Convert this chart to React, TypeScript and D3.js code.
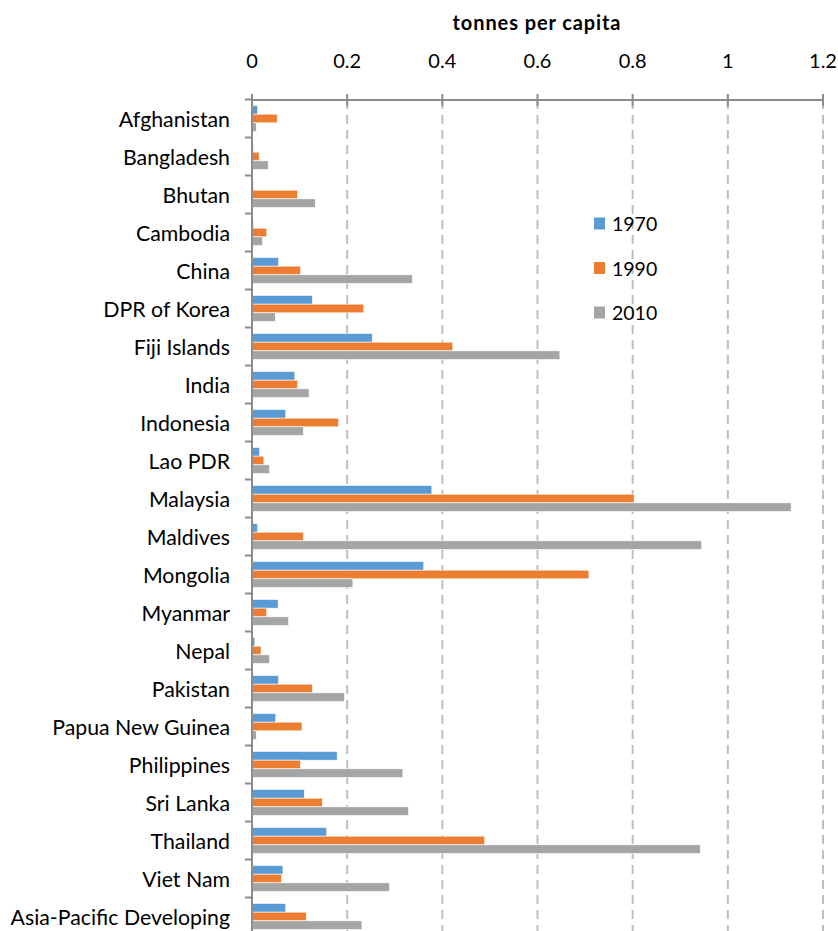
import React from "react";
import * as d3 from "d3";

const categories = [
  "Afghanistan", "Bangladesh", "Bhutan", "Cambodia", "China", "DPR of Korea",
  "Fiji Islands", "India", "Indonesia", "Lao PDR", "Malaysia", "Maldives",
  "Mongolia", "Myanmar", "Nepal", "Pakistan", "Papua New Guinea", "Philippines",
  "Sri Lanka", "Thailand", "Viet Nam", "Asia-Pacific Developing",
];
const seriesNames = ["1970", "1990", "2010"];
const values1970 = [0.012, 0.003, 0.003, 0.003, 0.056, 0.127, 0.253, 0.090, 0.071, 0.016, 0.378, 0.012, 0.361, 0.055, 0.006, 0.056, 0.050, 0.179, 0.110, 0.157, 0.065, 0.071];
const values1990 = [0.053, 0.015, 0.096, 0.031, 0.102, 0.235, 0.422, 0.096, 0.182, 0.025, 0.803, 0.108, 0.708, 0.031, 0.019, 0.127, 0.105, 0.102, 0.148, 0.489, 0.062, 0.114];
const values2010 = [0.009, 0.034, 0.133, 0.022, 0.337, 0.049, 0.647, 0.120, 0.108, 0.037, 1.133, 0.945, 0.212, 0.077, 0.037, 0.194, 0.009, 0.317, 0.329, 0.942, 0.289, 0.231];
const xTicks = [0, 0.2, 0.4, 0.6, 0.8, 1, 1.2];
const colors = ["#5B9BD5", "#ED7D31", "#A5A5A5"];
const axisTitle = "tonnes per capita";

const W = 838;
const H = 931;
const FONT = "Lato, 'Open Sans', sans-serif";

export default function App() {
  const x = d3.scaleLinear().domain([0, 1.2]).range([252, 823]);
  const y = d3.scaleBand<string>().domain(categories).range([99.5, 99.5 + 38 * 22]).paddingInner(0.316).paddingOuter(0.158);
  const inner = d3.scaleBand<string>().domain(seriesNames).range([0, y.bandwidth()]);
  const data = [values1970, values1990, values2010];
  const axisColor = "#8C8C8C";
  const yTop = 100;
  const yBottom = 99.5 + 38 * 22;

  return (
    <svg width={W} height={H} style={{ position: "absolute", left: 0, top: 0, background: "#fff" }} fontFamily={FONT}>
      {/* gridlines */}
      {xTicks.slice(1).map((t) => (
        <line key={"g" + t} x1={x(t)} x2={x(t)} y1={yTop} y2={yBottom} stroke="#BFBFBF" strokeWidth={2} strokeDasharray="9,6" />
      ))}
      {/* bars */}
      {categories.map((c, i) => (
        <g key={c}>
          {data.map((vals, s) => (
            <rect
              key={s}
              x={x(0)}
              y={(y(c) as number) + (inner(seriesNames[s]) as number)}
              width={x(vals[i]) - x(0)}
              height={inner.bandwidth()}
              fill={colors[s]}
              stroke="#fff"
              strokeWidth={0.6}
            />
          ))}
        </g>
      ))}
      {/* y axis */}
      <line x1={x(0)} x2={x(0)} y1={yTop} y2={yBottom} stroke={axisColor} strokeWidth={2} />
      {d3.range(categories.length + 1).map((k) => (
        <line key={"yt" + k} x1={x(0) - 7} x2={x(0)} y1={99.5 + 38 * k} y2={99.5 + 38 * k} stroke={axisColor} strokeWidth={2} />
      ))}
      {categories.map((c) => (
        <text key={"l" + c} x={230} y={(y(c) as number) + y.bandwidth() / 2} textAnchor="end" dominantBaseline="central" fontSize={21.3} fill="#000">
          {c}
        </text>
      ))}
      {/* x axis on top */}
      <line x1={x(0) - 1} x2={x(1.2) + 1} y1={yTop} y2={yTop} stroke={axisColor} strokeWidth={2} />
      {xTicks.map((t) => (
        <line key={"xt" + t} x1={x(t)} x2={x(t)} y1={yTop - 6} y2={yTop + 6} stroke={axisColor} strokeWidth={2} />
      ))}
      {xTicks.map((t) => (
        <text key={"xl" + t} x={x(t)} y={60} textAnchor="middle" dominantBaseline="central" fontSize={20} fill="#000">
          {String(t)}
        </text>
      ))}
      <text x={537} y={22} textAnchor="middle" dominantBaseline="central" fontSize={20} letterSpacing={0.9} fontWeight="bold" fill="#000">
        {axisTitle}
      </text>
      {/* legend */}
      {seriesNames.map((s, i) => (
        <g key={"lg" + s} transform={`translate(594, ${223.5 + i * 44.5})`}>
          <rect x={0} y={-6} width={11} height={12} fill={colors[i]} />
          <text x={18} y={0} dominantBaseline="central" fontSize={19.5} fill="#000">
            {s}
          </text>
        </g>
      ))}
    </svg>
  );
}
